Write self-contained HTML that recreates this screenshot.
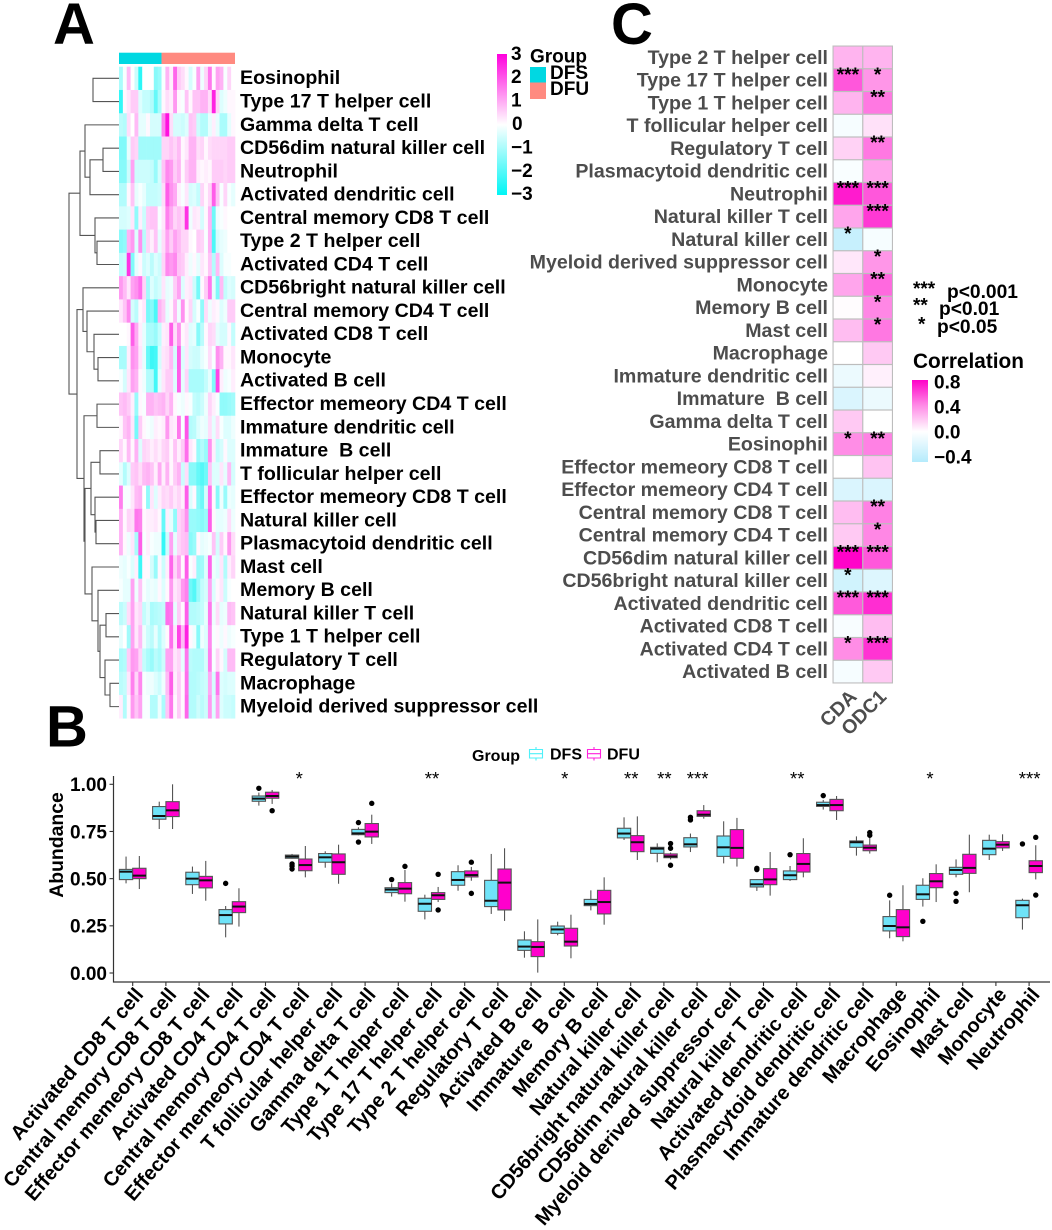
<!DOCTYPE html>
<html lang="en">
<head>
<meta charset="utf-8">
<title>Immune cell infiltration figure</title>
<style>
html,body{margin:0;padding:0;background:#fff;}
svg{display:block;font-family:"Liberation Sans",sans-serif;font-weight:bold;white-space:pre;}
text{white-space:pre;}
</style>
</head>
<body>
<svg id="fig" xmlns="http://www.w3.org/2000/svg" width="1052" height="1230" viewBox="0 0 1052 1230">
<text x="53" y="44" font-size="58">A</text>
<text x="46" y="746.5" font-size="58">B</text>
<text x="611" y="44" font-size="58">C</text>
<g id="panelA"></g>
<g id="panelC"></g>
<g id="panelB"></g>
</svg>
<script>
/* ---------- Panel A data ---------- */
const heatRows = ["Eosinophil","Type 17 T helper cell","Gamma delta T cell","CD56dim natural killer cell","Neutrophil","Activated dendritic cell","Central memory CD8 T cell","Type 2 T helper cell","Activated CD4 T cell","CD56bright natural killer cell","Central memory CD4 T cell","Activated CD8 T cell","Monocyte","Activated B cell","Effector memeory CD4 T cell","Immature dendritic cell","Immature  B cell","T follicular helper cell","Effector memeory CD8 T cell","Natural killer cell","Plasmacytoid dendritic cell","Mast cell","Memory B cell","Natural killer T cell","Type 1 T helper cell","Regulatory T cell","Macrophage","Myeloid derived suppressor cell"];
const heatDfsCount = 11;
const heatValues = [
[-1,-.1,.8,0,-.6,-2.5,0,0,0,-1.4,-1.2,-.1,.9,.2,1.8,.6,.4,.1,-.5,-.1,1.1,-.2,.5,1.6,.1,1.1,.9,-.1,.5,0],
[-2.4,.1,.3,.6,.6,-.4,-.7,-.7,-.9,-1.8,-1,.1,.4,.2,1.2,.1,-.1,.7,.1,.7,.7,.9,.9,.4,2.6,.5,-.4,-.2,.1,.1],
[-.8,-.9,.4,0,.8,-.3,-.3,.1,-.5,-.5,-.5,1.5,2.8,.4,-.5,-.5,-.6,-.4,.7,.6,-.6,-.9,-.9,-.3,.2,-.3,-1,-1,-.3,.1],
[-1.5,-1.5,-.3,.6,.5,-1.1,-1.1,-1.1,-1.1,-1.1,-1.1,.5,.5,.7,.5,.8,.1,.3,.9,.9,.4,.5,.1,.4,.5,.5,.5,.5,.6,.6],
[-1.4,-1.4,-.6,1.1,-.6,-.6,-.6,-.6,-.7,-1.2,-.5,.7,1.4,1.2,.6,.9,.1,.6,.9,.9,.2,.1,.2,.1,.6,.6,.6,.5,.6,.6],
[-.9,-.9,.1,.7,-.3,-.1,-.3,-.7,-.7,-.7,-.6,.4,1.9,1.3,1,.2,-.1,.3,-.5,-.4,-.7,.5,.1,.5,1.9,.7,-.1,.5,-.1,-.3],
[-.5,-.5,-.4,.3,-1.3,.2,-.6,.6,.7,.7,-.1,.3,1.5,1,.5,.7,.5,2.4,-.2,.3,.2,-.5,.1,.9,-1.7,-.2,-.1,.1,0,0],
[-1.4,-1.3,.9,1.2,-.4,1.3,-.8,.5,.2,.7,-.3,.4,1.1,.6,1.1,.8,.5,.5,.1,0,.6,.5,-.1,.9,-2.1,-.5,-.3,-.2,0,0],
[-.7,-.6,2.4,-1.5,-.3,.1,-.6,-.4,-.8,-.4,-.6,.5,1.4,1.2,1.4,.7,.6,.2,-.2,.1,-.3,.3,.1,.7,-.9,.8,-.4,-.1,-.1,0],
[1.2,.8,.3,1.1,1.3,1.7,.5,-1.1,-.4,-.7,-.5,.3,-.3,-.2,.6,1.1,-.4,.2,.3,-.6,-1.6,.1,.6,1.6,-.3,-1.5,.8,-.7,-.4,-.5],
[.3,.7,1.4,-.5,-.8,.1,.3,-1.6,-1.4,-2.1,.9,.6,-.3,.1,.8,-.2,1.3,.1,.5,-.5,-.1,-1.3,.4,-.2,.2,.1,-.4,-.2,.6,.6],
[0,0,.1,1.9,1,.2,-.3,-1,-1,-1.2,-.7,.2,.3,1.9,.4,1.3,.1,.3,-.4,-.3,-1.4,-.8,.1,.5,.4,-.3,-.5,-.5,.1,-.7],
[-1,-1,.2,1.3,1.1,.3,-.3,-1.8,-2.3,-2.2,-.5,.3,.4,.8,-.5,1.9,-.4,.3,-.5,-.6,-.6,-.3,-.1,.4,-.1,1.3,.9,.1,.1,.3],
[-.1,-.5,.3,1.1,.9,.1,-.2,-.9,-.9,-2.2,-.3,.3,.6,.6,-.4,1.9,-.3,.5,-1,-1,-1,-1,-.7,-.3,-1.5,2.2,.2,-.2,-.1,.2],
[.7,.8,.6,.2,-1.2,.1,-.1,.9,.9,.7,.8,.9,.5,.9,.1,-.1,-.2,.1,-.1,-.7,-.8,-.6,-.2,.5,.2,-.1,-1.3,-1.3,-1.2,-1.1],
[.1,.7,.9,.3,-1.6,.6,.1,-.1,-.2,.2,.1,.2,1.2,.3,.2,1.6,-.1,2,-.9,-.8,-.4,-.2,-.3,.4,-.3,.4,-.1,-.4,-.4,-.2],
[.5,.1,.8,.1,.9,-.4,.5,.4,.2,.4,.2,.5,.6,.1,.7,.2,.6,1.7,.3,.1,-1.2,-.9,-1.2,1.3,.2,-.7,-.5,.1,-.4,-.4],
[-.3,-.9,-.4,.6,.7,.4,.8,.9,.7,.2,1,.2,.9,.1,.6,.9,-.6,.4,-1.4,-1.4,-1.8,-2,-1.7,.7,-.4,-.4,.3,-.3,.8,-.5],
[1.5,-.1,-.1,.3,.8,.9,0,-1.3,.3,-.4,.2,.5,.4,.6,.3,.5,.2,1.9,-.4,.1,-1.4,-1.7,-.5,1.7,.1,-1.4,-.2,-1.2,-.2,-.3],
[.9,.1,.5,.4,1.6,1.5,.1,.2,.2,.3,.1,-1.8,.2,-.3,-1.3,.5,.7,1.3,-1.2,-1.2,-1.3,-1.4,-1.2,1.9,.1,-.3,-.3,-.2,.4,-.2],
[.9,.1,-.2,.3,-1,1.9,-.1,.2,-.1,-.2,-.2,-2.4,-.6,1.1,-.3,.5,.7,.8,-1.4,-1.2,.1,-.3,-.2,-.1,.7,-.5,.6,.1,1.2,.4],
[-.2,-.3,-.1,-.4,.2,-2.3,.1,.1,-.5,-1.2,.1,-.6,.2,1.8,.5,1.1,.1,1.9,-.1,.2,-1.2,-1.1,-.4,1.8,-.2,-.4,.3,-.9,.2,.5],
[-.1,-.3,-.3,1.1,-.2,.7,-.1,-.3,-.2,-.3,.1,-.4,.1,1.2,.3,.5,1.2,1.5,-1.7,-2,-1.2,-.7,-.5,1.1,-.4,.1,.3,-.6,-.1,0],
[-.8,-.6,.4,1.1,.3,.5,-.7,-.4,-1,-.9,-.8,-.7,1.7,1.6,-.3,.6,.1,1.9,-.9,-.9,-.8,-.7,-.3,1.6,-.2,.4,-.3,-.2,.8,.7],
[-.3,0,-1.1,1.1,.3,.8,-.2,-.6,-.8,-.3,-.9,-.4,.1,1.7,.3,2.2,.8,2.6,.1,-.2,-1.4,-.2,-.4,1.4,-.1,.1,-.2,.1,-.2,-.1],
[-1,-.9,.6,1.2,1.1,.5,-.7,-1,-1.2,-.8,-1,-.6,1.1,1.1,.3,.5,-.3,1.6,-.8,-.9,-.9,-.9,-.5,1.5,-.1,.5,.1,-.5,.8,.8],
[-.8,-.7,.3,1.5,.5,1.4,-.1,-.2,-.2,-.4,-.6,-.2,.8,1.9,.2,.6,.1,1.7,-.9,-.9,-.8,-.7,-.6,1,-.5,1.6,-.4,-.5,-.4,-.4],
[.2,-.9,.1,1.2,.7,1.1,-.1,-.1,-.9,-.9,-.2,-1,.7,1.6,.1,.6,.1,1.8,-.9,-.9,-.6,-.8,-.6,1.2,-.4,1.1,-.4,-.6,-.6,-.7]
];
/* Dendrogram merges: [childA, childB, height]. A negative child is a leaf (row = -child-1); positive is a merge number (1-based). */
const dendroMerges = [
[-1,-2,.52],[-4,-5,.32],[2,-6,.58],[-3,3,.68],[-8,-9,.44],[-7,5,.48],[4,6,.78],
[-13,-14,.42],[-12,8,.5],[-11,9,.64],[-10,10,.72],[-15,-16,.44],[-17,-18,.38],
[-20,-21,.46],[-19,14,.48],[13,15,.56],
[-24,-25,.26],[-27,-28,.18],[-26,18,.28],[17,19,.38],[-23,20,.42],[-22,21,.54],
[16,22,.68],[12,23,.70],[11,24,.84],[7,25,1]
];
const heatTicks = [3,2,1,0,-1,-2,-3];

/* ---------- Panel C data ---------- */
const corrRows = ["Type 2 T helper cell","Type 17 T helper cell","Type 1 T helper cell","T follicular helper cell","Regulatory T cell","Plasmacytoid dendritic cell","Neutrophil","Natural killer T cell","Natural killer cell","Myeloid derived suppressor cell","Monocyte","Memory B cell","Mast cell","Macrophage","Immature dendritic cell","Immature  B cell","Gamma delta T cell","Eosinophil","Effector memeory CD8 T cell","Effector memeory CD4 T cell","Central memory CD8 T cell","Central memory CD4 T cell","CD56dim natural killer cell","CD56bright natural killer cell","Activated dendritic cell","Activated CD8 T cell","Activated CD4 T cell","Activated B cell"];
const corrCols = ["CDA","ODC1"];
const corrCDA = [.25,.56,.25,-.05,.15,-.03,.76,.3,-.3,.08,.3,.01,.22,0,-.1,-.2,.18,.38,0,-.2,.22,.18,.84,-.25,.55,-.04,.38,-.05];
const corrODC1 = [.25,.35,.45,.1,.45,.3,.56,.66,-.05,.35,.5,.4,.45,.18,.05,-.1,0,.42,.2,-.2,.42,.4,.56,-.18,.7,.22,.68,.18];
const starsCDA = ["","***","","","","","***","","*","","","","","","","","","*","","","","","***","*","***","","*",""];
const starsODC1 = ["","*","**","","**","","***","***","","*","**","*","*","","","","","**","","","**","*","***","","***","","***",""];
const corrTicks = [0.8,0.4,0.0,-0.4];

/* ---------- Panel B data ---------- */
const boxCats = ["Activated CD8 T cell","Central memory CD8 T cell","Effector memeory CD8 T cell","Activated CD4 T cell","Central memory CD4 T cell","Effector memeory CD4 T cell","T follicular helper cell","Gamma delta T cell","Type 1 T helper cell","Type 17 T helper cell","Type 2 T helper cell","Regulatory T cell","Activated B cell","Immature  B cell","Memory B cell","Natural killer cell","CD56bright natural killer cell","CD56dim natural killer cell","Myeloid derived suppressor cell","Natural killer T cell","Activated dendritic cell","Plasmacytoid dendritic cell","Immature dendritic cell","Macrophage","Eosinophil","Mast cell","Monocyte","Neutrophil"];
/* each entry: [high whisker, q3, median, q1, low whisker] */
const dfsBoxes = [
[.617,.549,.537,.495,.475],[.908,.882,.832,.815,.763],[.564,.534,.5,.468,.419],[.355,.336,.307,.26,.189],
[.956,.938,.924,.91,.887],[.631,.625,.617,.608,.606],[.645,.633,.613,.587,.558],[.772,.761,.74,.733,.73],
[.475,.452,.442,.426,.405],[.415,.396,.367,.327,.284],[.571,.537,.493,.465,.436],[.631,.491,.383,.352,.313],
[.221,.175,.14,.12,.081],[.272,.249,.231,.21,.2],[.438,.39,.366,.357,.332],[.825,.767,.739,.716,.705],
[.687,.666,.659,.634,.587],[.739,.717,.682,.668,.641],[.804,.726,.666,.618,.581],[.498,.495,.47,.456,.435],
[.567,.541,.518,.495,.488],[.917,.905,.89,.883,.866],[.724,.7,.693,.666,.622],[.385,.299,.249,.223,.184],
[.502,.465,.417,.39,.352],[.602,.56,.546,.523,.507],[.733,.703,.659,.627,.599],[.394,.385,.359,.293,.23]
];
const dfuBoxes = [
[.62,.555,.516,.5,.445],[1,.908,.862,.829,.763],[.594,.512,.491,.451,.383],[.449,.378,.352,.32,.246],
[.97,.958,.938,.926,.896],[.673,.604,.572,.542,.507],[.68,.631,.587,.523,.473],[.839,.792,.749,.721,.684],
[.546,.479,.447,.42,.378],[.456,.426,.412,.39,.376],[.562,.541,.519,.509,.489],[.661,.551,.479,.334,.276],
[.284,.166,.138,.087,.002],[.309,.237,.166,.143,.078],[.507,.438,.376,.313,.256],[.83,.728,.693,.643,.599],
[.638,.631,.618,.611,.602],[.89,.86,.839,.83,.818],[.822,.76,.663,.608,.564],[.641,.553,.496,.468,.41],
[.714,.633,.578,.535,.507],[.938,.92,.89,.86,.811],[.723,.678,.664,.648,.633],[.465,.336,.242,.193,.168],
[.576,.527,.486,.452,.376],[.733,.629,.557,.528,.428],[.735,.696,.68,.663,.647],[.677,.595,.567,.532,.496]
];
const dfsOutliers = [[],[],[],[.475],[.979],[.578,.567,.551],[],[.797,.694],[.495],[],[],[],[],[],[],[],[],[.825,.811],[],[.555,.548],[.627],[.94],[],[.412],[.274],[.422,.38],[],[.684]];
const dfuOutliers = [[],[],[],[],[.86],[],[],[.899],[.565],[.523,.334],[.587,.422],[],[],[],[],[],[.686,.661,.571],[],[],[],[],[],[.744,.73],[],[],[],[],[.719,.413]];
const boxStars = ["","","","","","*","","","","**","","","","*","","**","**","***","","","**","","","","*","","","***"];
const yTicks = [0,0.25,0.5,0.75,1];
const legendGroups = ["DFS","DFU"];

/* ---------- helpers ---------- */
const NS = "http://www.w3.org/2000/svg";
function mk(parent, tag, attrs, txt){
  const el = document.createElementNS(NS, tag);
  for(const k in attrs) el.setAttribute(k, attrs[k]);
  if(txt !== undefined) el.textContent = txt;
  parent.appendChild(el);
  return el;
}
function mix(a,b,t){
  return "rgb(" + a.map((v,i)=>Math.round(v+(b[i]-v)*t)).join(",") + ")";
}
function heatColor(v){
  const t = Math.min(1, Math.abs(v)/3);
  return v>=0 ? mix([255,255,255],[255,0,221],t) : mix([255,255,255],[0,245,245],t);
}
function corrColor(v){
  if(v>=0) return mix([255,255,255],[255,0,200],Math.min(1,v/.85));
  return mix([255,255,255],[180,235,252],Math.min(1,-v/.4));
}

/* ---------- Panel A ---------- */
(function(){
  const g = document.getElementById("panelA");
  const hx0=119, hx1=235, hy0=66.7, rowH=23.27;
  const colW=(hx1-hx0)/heatValues[0].length;
  const xCol=i=>hx0+i*colW, yRow=i=>hy0+i*rowH;
  const a1 = mk(g,"rect",{x:hx0,y:52.7,width:heatDfsCount*colW,height:11.3,fill:"#00d8e2"});
  
  
  const a2 = mk(g,"rect",{x:xCol(heatDfsCount),y:52.7,width:(heatValues[0].length-heatDfsCount)*colW,height:11.3,fill:"#ff8a80"});
  
  
  heatValues.forEach((row,r)=>{
    row.forEach((v,c)=>{
      const cell = mk(g,"rect",{x:xCol(c),y:yRow(r),width:colW+.3,height:rowH+.3,fill:heatColor(v)});
      
      
    });
    const lab = mk(g,"text",{x:240,y:yRow(r)+rowH/2+5.9,"font-size":19.6,fill:"#000"},heatRows[r]);
    
    
  });
  /* dendrogram */
  const hToX = h => hx0 - h*50;
  const pos = [];
  const childPos = c => c<0 ? {x:hx0,y:yRow(-c-1)+rowH/2} : pos[c-1];
  dendroMerges.forEach(m=>{
    const a=childPos(m[0]), b=childPos(m[1]), x=hToX(m[2]);
    const link = mk(g,"path",{d:`M${a.x} ${a.y}H${x}V${b.y}H${b.x}`,fill:"none",stroke:"#555",
      "stroke-width":1.1});
    
    
    pos.push({x:x,y:(a.y+b.y)/2});
  });
  /* colour bar */
  const defs = mk(g,"defs",{});
  const lg = mk(defs,"linearGradient",{id:"heatGrad",x1:0,y1:0,x2:0,y2:1});
  [[0,3],[.5,0],[1,-3]].forEach(s=>mk(lg,"stop",{offset:s[0],"stop-color":heatColor(s[1])}));
  const bar = mk(g,"rect",{x:497,y:54,width:10,height:141,fill:"url(#heatGrad)"});
  
  
  const yBar = v => 123.5 - v*23.4;
  heatTicks.forEach(t=>{
    const l = mk(g,"text",{x:t===0?512:511,y:yBar(t)+6.5,"font-size":19},(t<0?"\u2212":"")+Math.abs(t));
    
    
  });
  const gt = mk(g,"text",{x:530,y:62.5,"font-size":19},"Group");
  
  
  const s1 = mk(g,"rect",{x:530,y:67,width:16,height:15.5,fill:"#00d8e2"});
  
  
  const s2 = mk(g,"rect",{x:530,y:82.5,width:16,height:16.5,fill:"#ff8a80"});
  
  
  const t1 = mk(g,"text",{x:550,y:79,"font-size":19},"DFS");
  
  
  const t2 = mk(g,"text",{x:550,y:95,"font-size":19},"DFU");
  
  
})();

/* ---------- Panel C ---------- */
(function(){
  const g = document.getElementById("panelC");
  const x0=833, y0=46, cw=29.75, rh=22.75;
  const series=[corrCDA,corrODC1], stars=[starsCDA,starsODC1];
  const bg = mk(g,"rect",{x:x0-.5,y:y0-.5,width:cw*2+1,height:rh*corrRows.length+1,fill:"#bdbdbd"});
  
  
  corrRows.forEach((name,r)=>{
    const yr=y0+r*rh;
    const lab = mk(g,"text",{x:828,y:yr+rh/2+6.5,"text-anchor":"end","font-size":19.6,fill:"#4d4d4d"},name);
    
    
    series.forEach((vals,c)=>{
      const xc=x0+c*cw;
      const cell = mk(g,"rect",{x:xc+.6,y:yr+.6,width:cw-1.2,height:rh-1.2,fill:corrColor(vals[r])});
      
      
    });
  });
  corrRows.forEach((name,r)=>{
    const yr=y0+r*rh;
    series.forEach((vals,c)=>{
      if(stars[c][r]){
        const st = mk(g,"text",{x:x0+c*cw+cw/2,y:yr+12,"text-anchor":"middle","font-size":19,fill:"#000"},stars[c][r]);
        
        
      }
    });
  });
  corrCols.forEach((name,c)=>{
    const ax=x0+c*cw+cw/2, ay=688;
    const lab = mk(g,"text",{x:0,y:0,"text-anchor":"end","font-size":19.5,fill:"#4d4d4d",
      transform:`translate(${ax},${ay}) rotate(-45) translate(0,14)`},name);
    
    
  });
  /* p-value key */
  const pKey=[["***",913,295,"p<0.001",947,298],["**",913,311.5,"p<0.01",939,315],["*",918,330.5,"p<0.05",937,333]];
  pKey.forEach(k=>{
    const a = mk(g,"text",{x:k[1],y:k[2],"font-size":19},k[0]);
    
    
    const b = mk(g,"text",{x:k[4],y:k[5],"font-size":19.2},k[3]);
    
    
  });
  const ct = mk(g,"text",{x:913,y:368,"font-size":20.8},"Correlation");
  
  
  const defs = mk(g,"defs",{});
  const lg = mk(defs,"linearGradient",{id:"corrGrad",x1:0,y1:0,x2:0,y2:1});
  [[0,.85],[.3,.4],[.63,0],[1,-.45]].forEach(s=>mk(lg,"stop",{offset:s[0],"stop-color":corrColor(s[1])}));
  const bar = mk(g,"rect",{x:912,y:380,width:16,height:82,fill:"url(#corrGrad)"});
  
  
  const yC = v => 431.5 - v*62.5;
  corrTicks.forEach(t=>{
    const l = mk(g,"text",{x:934,y:yC(t)+7,"font-size":19},(t<0?"\u2212":"")+Math.abs(t).toFixed(1));
    
    
  });
})();

/* ---------- Panel B ---------- */
(function(){
  const g = document.getElementById("panelB");
  const xCat = i => 132.7 + i*33.2;
  const yVal = v => 973 - v*188.7;
  const boxW = 13.3;
  const axisY = 982, axisX = 113.5;
  function drawBox(stat, cx, fill, outs){
    const whisk = mk(g,"path",{d:`M${cx} ${yVal(stat[0])}V${yVal(stat[4])}`,stroke:"#555","stroke-width":1.1,fill:"none"});
    
    
    const box = mk(g,"rect",{x:cx-boxW/2,y:yVal(stat[1]),width:boxW,height:yVal(stat[3])-yVal(stat[1]),fill:fill,stroke:"#555","stroke-width":1.1});
    
    
    const med = mk(g,"path",{d:`M${cx-boxW/2} ${yVal(stat[2])}h${boxW}`,stroke:"#111","stroke-width":2});
    
    
    outs.forEach(o=>{
      const pt = mk(g,"circle",{cx:cx,cy:yVal(o),r:2.7,fill:"#000"});
      
      
    });
  }
  boxCats.forEach((name,i)=>{
    drawBox(dfsBoxes[i],xCat(i)-6.65,"#6fe3f8",dfsOutliers[i]);
    drawBox(dfuBoxes[i],xCat(i)+6.65,"#ff00cc",dfuOutliers[i]);
    if(boxStars[i]){
      const st = mk(g,"text",{x:xCat(i)+.5,y:785,"text-anchor":"middle","font-size":18.6,"font-weight":"normal",fill:"#000"},boxStars[i]);
      
      
    }
    const tk = mk(g,"path",{d:`M${xCat(i)} ${axisY}v4`,stroke:"#333","stroke-width":1.1});
    
    
    const lab = mk(g,"text",{x:0,y:0,"text-anchor":"end","font-size":20,fill:"#000",
      transform:`translate(${xCat(i)+1},${axisY+4}) rotate(-49.5) translate(0,14)`},name);
    
    
  });
  const ax = mk(g,"path",{d:`M${axisX} 776V${axisY}H1050`,fill:"none",stroke:"#333","stroke-width":1.2});
  
  
  yTicks.forEach(t=>{
    const tk = mk(g,"path",{d:`M${axisX-4} ${yVal(t)}h4`,stroke:"#333","stroke-width":1.1});
    
    
    const l = mk(g,"text",{x:107,y:yVal(t)+6.8,"text-anchor":"end","font-size":19},t.toFixed(2));
    
    
  });
  const yt = mk(g,"text",{x:0,y:0,"text-anchor":"middle","font-size":19.4,transform:"translate(63,845) rotate(-90)"},"Abundance");
  
  
  const lt = mk(g,"text",{x:472,y:761,"font-size":16},"Group");
  
  
  const keyX=[536,594], keyCol=["#4ff0f8","#ff22dd"], keyTxt=[550,607];
  legendGroups.forEach((name,i)=>{
    const k = mk(g,"path",{d:`M${keyX[i]} 747v2.5M${keyX[i]} 758v2.5M${keyX[i]-6.5} 749.5h13v8.5h-13zM${keyX[i]-6.5} 753.7h13`,fill:"none",stroke:keyCol[i],"stroke-width":1.1});
    
    
    const t = mk(g,"text",{x:keyTxt[i],y:759.5,"font-size":16},name);
    
    
  });
})();
</script>
</body>
</html>
